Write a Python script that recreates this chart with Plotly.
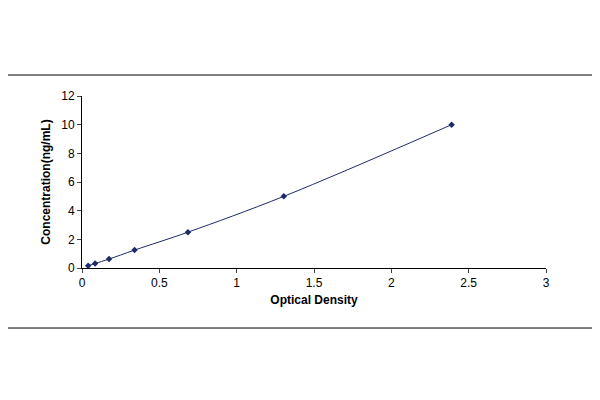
import plotly.graph_objects as go

od = [0.04, 0.085, 0.175, 0.34, 0.685, 1.305, 2.39]
conc = [0.156, 0.312, 0.625, 1.25, 2.5, 5, 10]

fig = go.Figure()
fig.add_trace(go.Scatter(
    x=od, y=conc, mode='lines+markers',
    line=dict(color='#1f2a6b', width=1, shape='spline'),
    marker=dict(symbol='diamond', size=5, color='#1f2a6b')))

axis_font = dict(family='Liberation Sans', size=12, color='black')
fig.update_xaxes(range=[0, 3], dtick=0.5, showgrid=False, zeroline=False,
                 showline=True, linecolor='black', ticks='outside', ticklen=4,
                 tickfont=axis_font,
                 title=dict(text='<b>Optical Density</b>', font=axis_font, standoff=6))
fig.update_yaxes(range=[0, 12], dtick=2, showgrid=False, zeroline=False,
                 showline=True, linecolor='black', ticks='outside', ticklen=4,
                 tickfont=axis_font,
                 title=dict(text='<b>Concentration(ng/mL)</b>', font=axis_font, standoff=8))

fig.add_shape(type='rect', xref='paper', yref='paper',
              x0=-0.166, x1=1.106, y0=-0.349, y1=1.122,
              line=dict(color='black', width=1))

fig.update_layout(width=600, height=400, showlegend=False,
                  margin=dict(l=74, r=62, t=88, b=140),
                  plot_bgcolor='white', paper_bgcolor='white',
                  font=dict(family='Liberation Sans'))

fig.write_html("out.html")
